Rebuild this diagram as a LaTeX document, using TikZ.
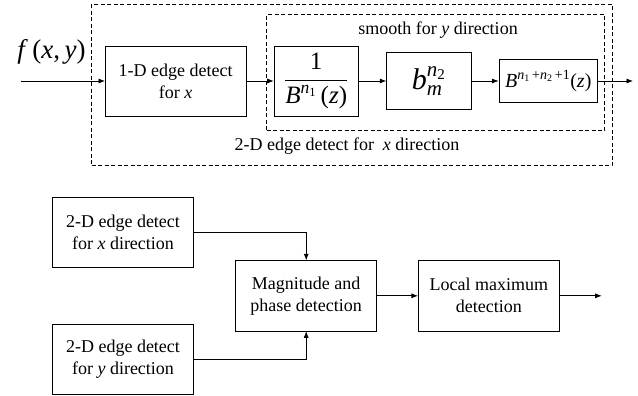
\documentclass[tikz,border=0pt]{standalone}
\usepackage{amsmath}
\usepackage{fontspec}
\newfontfamily\serif{Liberation Serif}
\usetikzlibrary{arrows.meta}
% italic / upright letters that stay in the text font inside math
\newcommand{\vi}[1]{\text{\serif\itshape #1}}
\newcommand{\vr}[1]{\text{\serif #1}}
\begin{document}
\begin{tikzpicture}[x=1pt,y=-1pt,
  box/.style={draw, line width=0.7pt, inner sep=0pt, align=center,
    font=\serif\fontsize{18}{22}\selectfont},
  frame/.style={draw, dash pattern=on 4pt off 2.5pt, line width=0.7pt, inner sep=0pt},
  link/.style={line width=0.7pt, -{Latex[length=6.5pt,width=5pt]}},
  lbl/.style={font=\serif\fontsize{18}{22}\selectfont, inner sep=0pt}]
\useasboundingbox (0,0) rectangle (638,396);

% dashed groups
\node[frame, minimum width=520.3pt, minimum height=161.7pt] (outer) at (351.85,84.85) {};
\node[frame, minimum width=338pt, minimum height=115.8pt] (inner) at (435.7,72.6) {};
\node[lbl] (smoothlbl) at (438,30) {smooth for \textit{y} direction};
\node[lbl] (xlbl) at (347,146) {2-D edge detect for \ \textit{x} direction};

% top chain
\node[font=\serif\fontsize{27}{30}\selectfont, inner sep=0pt] (flbl) at (51.5,52)
  {\textit{f}\,(\textit{x},\,\textit{y})};
\coordinate (in) at (21,81);
\node[box, minimum width=140.7pt, minimum height=70pt] (b1) at (175.7,81)
  {1-D edge detect\\for \textit{x}};
\node[box, minimum width=84.3pt, minimum height=70pt, font=\serif\fontsize{25}{28}\selectfont] (b2) at (316.2,81)
  {$\dfrac{\vr{1}}{\vi{B}^{\vi{n}_{\vr{1}}}\vr{\,(\itshape z\upshape)}}$};
\node[box, minimum width=84.3pt, minimum height=56.3pt, font=\serif\fontsize{30}{34}\selectfont] (b3) at (428.8,81)
  {$\vi{b}_{\vi{m}}^{\vi{n}_{\vr{2}}}$};
\node[box, minimum width=98.7pt, minimum height=42.3pt, font=\serif\fontsize{20}{24}\selectfont] (b4) at (548.3,81)
  {$\vi{B}^{\vi{n}_{\vr{1}}\vr{\,+}\vi{n}_{\vr{2}}\vr{\,+1}}\vr{(\itshape z\upshape)}$};
\coordinate (out1) at (633,81);

\draw[link] (in) -- (b1.west);
\draw[link] (b1.east) -- (b2.west);
\draw[link] (b2.east) -- (b3.west);
\draw[link] (b3.east) -- (b4.west);
\draw[link] (b4.east) -- (out1);

% bottom chain
\node[box, minimum width=140.7pt, minimum height=70pt] (bA) at (123,232.3)
  {2-D edge detect\\for \textit{x} direction};
\node[box, minimum width=140.7pt, minimum height=70pt] (bB) at (123,359)
  {2-D edge detect\\for \textit{y} direction};
\node[box, minimum width=141pt, minimum height=70.3pt] (mag) at (306.2,295.8)
  {Magnitude and\\phase detection};
\node[box, minimum width=141pt, minimum height=70.3pt] (loc) at (488.8,295.8)
  {Local maximum\\detection};
\coordinate (out2) at (601.7,295.8);

\draw[link] (bA.east) -| (mag.north);
\draw[link] (bB.east) -| (mag.south);
\draw[link] (mag.east) -- (loc.west);
\draw[link] (loc.east) -- (out2);
\end{tikzpicture}
\end{document}
